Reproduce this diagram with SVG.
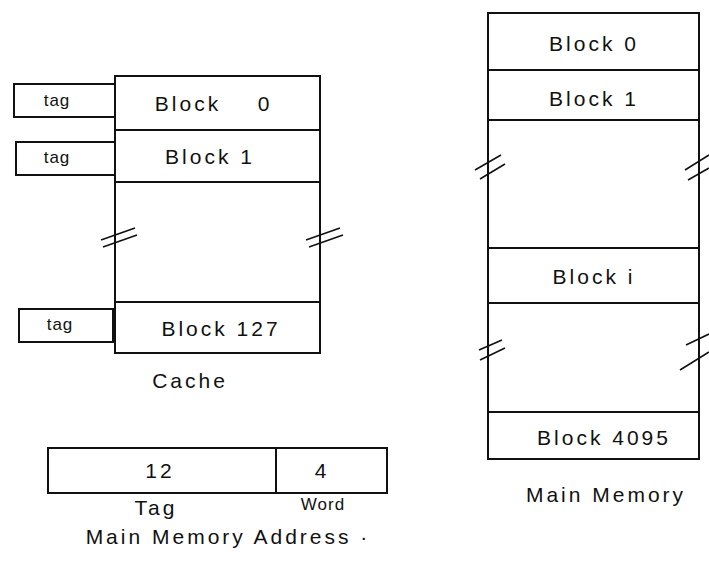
<svg xmlns="http://www.w3.org/2000/svg" width="709" height="577" viewBox="0 0 709 577">
<style>
.box{fill:none;stroke:#111;stroke-width:2}
.brk{fill:none;stroke:#111;stroke-width:1.6}
.lbl{font-family:"Liberation Sans",Arial,sans-serif;font-size:21px;letter-spacing:3px;fill:#111;text-anchor:middle;dominant-baseline:central}
.sm{font-size:17px;letter-spacing:1px}
</style>
<rect width="709" height="577" fill="#fff"/>
<g id="cache">
<rect class="box" x="115" y="76" width="205" height="277"/>
<line class="box" x1="115" y1="130" x2="320" y2="130"/>
<line class="box" x1="115" y1="182" x2="320" y2="182"/>
<line class="box" x1="115" y1="302" x2="320" y2="302"/>
<text class="lbl" x="188" y="103">Block</text>
<text class="lbl" x="265" y="103">0</text>
<text class="lbl" x="210" y="156">Block 1</text>
<text class="lbl" x="221" y="328">Block 127</text>
<text class="lbl" x="190" y="380">Cache</text>
</g>
<g id="tag0"><rect class="box" x="14" y="84" width="101" height="33"/><text class="lbl sm" x="57" y="100">tag</text></g>
<g id="tag1"><rect class="box" x="16" y="142" width="99" height="33"/><text class="lbl sm" x="57" y="157">tag</text></g>
<g id="tag127"><rect class="box" x="19" y="309" width="94" height="33"/><text class="lbl sm" x="60" y="324">tag</text></g>
<g id="address">
<rect class="box" x="48" y="448" width="339" height="45"/>
<line class="box" x1="276" y1="448" x2="276" y2="493"/>
<text class="lbl" x="160" y="470">12</text>
<text class="lbl" x="322" y="470">4</text>
<text class="lbl" x="156" y="507">Tag</text>
<text class="lbl sm" x="323" y="504">Word</text>
<text class="lbl" x="228" y="536">Main Memory Address ·</text>
</g>
<g id="mainmemory">
<rect class="box" x="488" y="13" width="211" height="446"/>
<line class="box" x1="488" y1="70" x2="699" y2="70"/>
<line class="box" x1="488" y1="120" x2="699" y2="120"/>
<line class="box" x1="488" y1="248" x2="699" y2="248"/>
<line class="box" x1="488" y1="303" x2="699" y2="303"/>
<line class="box" x1="488" y1="412" x2="699" y2="412"/>
<text class="lbl" x="594" y="43">Block 0</text>
<text class="lbl" x="594" y="98">Block 1</text>
<text class="lbl" x="594" y="276">Block i</text>
<text class="lbl" x="604" y="437">Block 4095</text>
<text class="lbl" x="606" y="494">Main Memory</text>
</g>
<g id="breaks">
<path class="brk" d="M101 240 L135 228 M103 247 L137 235"/>
<path class="brk" d="M306 240 L340 228 M309 247 L343 235"/>
<path class="brk" d="M475 170 L501 155 M480 179 L505 164"/>
<path class="brk" d="M685 170 L709 155 M688 180 L709 168"/>
<path class="brk" d="M479 350 L502 340 M480 360 L505 348"/>
<path class="brk" d="M686 345 L709 334 M680 370 L709 352"/>
</g>
</svg>
